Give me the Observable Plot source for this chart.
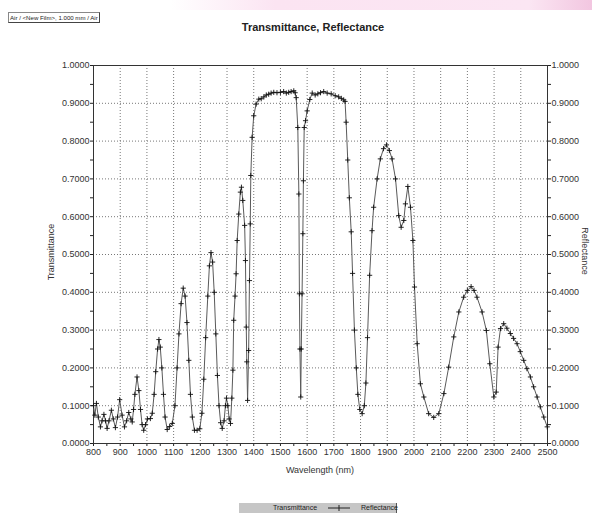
<!DOCTYPE html>
<html><head><meta charset="utf-8">
<script src="https://cdn.jsdelivr.net/npm/d3@7"></script>
<script src="https://cdn.jsdelivr.net/npm/@observablehq/plot@0.6"></script>
<style>
body{margin:0;background:#fff;font-family:"Liberation Sans",Arial,sans-serif;}
#wrap{position:relative;width:592px;height:516px;overflow:hidden;background:#fff;}
#pink{position:absolute;left:170px;top:0;width:422px;height:10px;background:linear-gradient(to right,rgba(252,232,245,0),#fbe4f2 25%,#fbe6f3 85%,#f2c6e0);}
#film{position:absolute;left:8px;top:12px;height:9px;padding:0 1px;border:1px solid #888;border-right-color:#444;border-bottom-color:#444;font-size:6.1px;line-height:9px;color:#222;white-space:nowrap;}
#title{position:absolute;left:0;width:626px;top:21px;text-align:center;font-size:11px;font-weight:bold;color:#222;}
#chart{position:absolute;left:0;top:40px;}
.lab{position:absolute;font-size:9px;color:#333;white-space:nowrap;}
#ylab{left:51px;top:252px;transform:translate(-50%,-50%) rotate(-90deg);}
#ylab2{left:585px;top:251px;transform:translate(-50%,-50%) rotate(90deg);}
#xlab{left:320px;top:470px;transform:translate(-50%,-50%);}
#legend{position:absolute;left:239px;top:503px;width:157px;height:10px;background:#c6c6c6;border-right:1px solid #555;font-size:7px;line-height:10px;color:#222;}
#legend span{position:absolute;top:0;}
#legend svg{position:absolute;left:89px;top:0;}
</style></head><body>
<div id="wrap">
 <div id="pink"></div>
 <div id="film">Air / &lt;New Film&gt;, 1.000 mm / Air</div>
 <div id="title">Transmittance, Reflectance</div>
 <div id="chart"></div>
 <div class="lab" id="ylab">Transmittance</div>
 <div class="lab" id="ylab2">Reflectance</div>
 <div class="lab" id="xlab">Wavelength (nm)</div>
 <div id="legend"><span style="left:34px">Transmittance</span><svg width="22" height="10"><line x1="0" y1="5" x2="22" y2="5" stroke="#222"/><line x1="11" y1="2" x2="11" y2="8" stroke="#222"/></svg><span style="left:122px">Reflectance</span></div>
</div>
<script>
const wavelength = [800,805,811,818,826,832,839,845,851,858,867,874,882,890,898,907,916,924,932,940,945,950,955,963,970,976,982,988,995,1002,1013,1020,1027,1033,1040,1045,1050,1056,1062,1068,1076,1085,1095,1105,1113,1120,1128,1136,1143,1150,1157,1163,1170,1178,1188,1198,1206,1213,1220,1228,1234,1240,1246,1252,1258,1264,1270,1276,1282,1289,1294,1298,1303,1308,1313,1318,1322,1325,1330,1334,1338,1344,1350,1354,1359,1366,1369,1372,1374,1377,1381,1384,1387,1389,1394,1400,1409,1419,1428,1438,1447,1456,1465,1475,1487,1500,1512,1522,1531,1540,1550,1555,1559,1565,1569,1571,1573,1576,1578,1581,1584,1586,1589,1594,1600,1610,1619,1630,1640,1650,1662,1675,1690,1705,1718,1728,1737,1742,1746,1752,1758,1765,1770,1777,1784,1790,1797,1806,1814,1820,1826,1834,1843,1849,1862,1874,1886,1897,1908,1918,1931,1943,1952,1962,1968,1977,1987,1996,2002,2012,2024,2037,2055,2074,2093,2112,2130,2149,2168,2186,2200,2214,2225,2236,2255,2271,2284,2299,2308,2315,2324,2336,2348,2361,2373,2386,2398,2411,2423,2436,2448,2461,2473,2486,2499];
const reflectance = [0.100,0.075,0.106,0.070,0.044,0.060,0.077,0.060,0.040,0.060,0.088,0.065,0.042,0.070,0.116,0.075,0.044,0.060,0.082,0.065,0.057,0.090,0.130,0.176,0.140,0.090,0.050,0.035,0.050,0.065,0.066,0.080,0.130,0.190,0.250,0.275,0.255,0.200,0.130,0.070,0.037,0.045,0.053,0.100,0.200,0.290,0.370,0.411,0.390,0.320,0.220,0.130,0.070,0.035,0.035,0.039,0.080,0.170,0.280,0.390,0.470,0.505,0.480,0.400,0.290,0.180,0.100,0.055,0.040,0.060,0.100,0.120,0.100,0.065,0.053,0.120,0.194,0.326,0.390,0.449,0.537,0.607,0.665,0.678,0.643,0.577,0.484,0.308,0.216,0.114,0.246,0.431,0.581,0.709,0.810,0.867,0.898,0.911,0.912,0.917,0.922,0.924,0.927,0.929,0.928,0.929,0.931,0.927,0.929,0.931,0.933,0.928,0.915,0.836,0.660,0.396,0.250,0.123,0.250,0.396,0.555,0.695,0.836,0.854,0.880,0.910,0.927,0.922,0.925,0.928,0.931,0.927,0.925,0.920,0.917,0.913,0.909,0.905,0.850,0.750,0.650,0.560,0.450,0.300,0.200,0.130,0.090,0.079,0.100,0.160,0.280,0.445,0.563,0.625,0.700,0.753,0.780,0.790,0.775,0.753,0.700,0.603,0.572,0.590,0.634,0.680,0.625,0.537,0.414,0.264,0.158,0.123,0.079,0.069,0.079,0.132,0.202,0.282,0.348,0.387,0.405,0.415,0.405,0.387,0.348,0.299,0.211,0.123,0.136,0.255,0.304,0.317,0.305,0.291,0.278,0.264,0.243,0.220,0.198,0.176,0.150,0.123,0.097,0.070,0.044];
const xTicks = [800,900,1000,1100,1200,1300,1400,1500,1600,1700,1800,1900,2000,2100,2200,2300,2400,2500];
const xMinor = [850,950,1050,1150,1250,1350,1450,1550,1650,1750,1850,1950,2050,2150,2250,2350,2450];
const yTicks = [0,0.1,0.2,0.3,0.4,0.5,0.6,0.7,0.8,0.9,1.0];
const yMinor = [0.05,0.15,0.25,0.35,0.45,0.55,0.65,0.75,0.85,0.95];

const data = wavelength.map((w,i)=>({w, r: reflectance[i]}));
const inner = (arr, lo, hi) => arr.filter(v => v > lo && v < hi);

const chart = Plot.plot({
  width: 592,
  height: 440,
  marginLeft: 93,
  marginRight: 45,
  marginTop: 25,
  marginBottom: 37,
  style: {fontFamily: "'Liberation Sans', Arial, sans-serif", fontSize: "9px", color: "#333", background: "transparent"},
  x: {domain: [800, 2500], label: null},
  y: {domain: [0, 1], label: null},
  marks: [
    Plot.gridX(inner(xTicks, 800, 2500), {stroke: "#777", strokeOpacity: 1, strokeDasharray: "1,2"}),
    Plot.gridY(inner(yTicks, 0, 1), {stroke: "#777", strokeOpacity: 1, strokeDasharray: "1,2"}),
    Plot.axisX(xTicks, {anchor: "bottom", tickSize: 3, tickPadding: 2, tickFormat: d => String(d), label: null, stroke: "#222"}),
    Plot.axisX(xMinor, {anchor: "bottom", tickSize: 3, fill: "none", label: null, stroke: "#222"}),
    Plot.axisY(yTicks, {anchor: "left", tickSize: 3, tickPadding: 1, tickFormat: d => d.toFixed(4), label: null, stroke: "#222"}),
    Plot.axisY(yMinor, {anchor: "left", tickSize: 3, fill: "none", label: null, stroke: "#222"}),
    Plot.axisY(yTicks, {anchor: "right", tickSize: 3, tickPadding: 1, tickFormat: d => d.toFixed(4), label: null, stroke: "#222"}),
    Plot.axisY(yMinor, {anchor: "right", tickSize: 3, fill: "none", label: null, stroke: "#222"}),
    Plot.frame({stroke: "#333"}),
    Plot.line(data, {x: "w", y: "r", stroke: "#5a5a5a", strokeWidth: 1}),
    Plot.dot(data, {x: "w", y: "r", symbol: "plus", r: 1.8, stroke: "#111", strokeWidth: 0.9})
  ]
});
document.getElementById("chart").appendChild(chart);
</script>
</body></html>
